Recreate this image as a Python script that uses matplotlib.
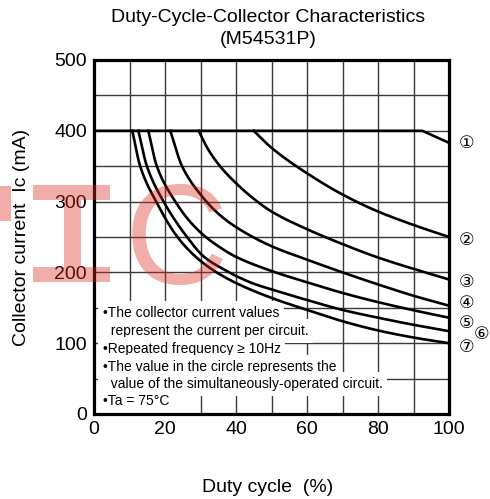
import matplotlib
matplotlib.use("Agg")
import matplotlib.pyplot as plt
from matplotlib.patches import Rectangle
import numpy as np

plt.rcParams['font.family'] = ['Liberation Sans', 'DejaVu Sans']

# ---- data ----
c1_x = [0, 92.5, 100]
c1_y = [400, 400, 383]
c2_x = [45, 50, 60, 70, 80, 90, 100]
c2_y = [400, 376, 340, 310, 286, 267, 250]
c3_x = [29.5, 32, 35.5, 40, 46, 50, 60, 70, 80, 90, 100]
c3_y = [400, 375, 350, 326, 300, 286, 261, 240, 221, 205, 190]
c4_x = [21.5, 24.8, 30, 35, 40, 50, 60, 70, 80, 90, 100]
c4_y = [400, 350, 310, 283, 264, 237, 218, 200, 183, 167, 153]
c5_x = [15.3, 17.7, 22.9, 27, 31, 35, 40, 50, 60, 70, 80, 90, 100]
c5_y = [400, 350, 300, 272, 252, 237, 222, 202, 186, 171, 158, 146.5, 136]
c6_x = [12.5, 14.9, 19.6, 26.2, 31, 37, 40, 45, 50, 60, 70, 80, 90, 100]
c6_y = [400, 350, 300, 250, 222, 203, 195, 184, 176, 161, 147, 136, 126, 117]
c7_x = [10.8, 13, 17.5, 23.5, 28, 33, 40, 50, 60, 70, 80, 90, 100]
c7_y = [400, 350, 300, 250, 225, 205, 185, 164, 147, 131, 118, 108, 100]
curves = [(c1_x, c1_y), (c2_x, c2_y), (c3_x, c3_y), (c4_x, c4_y),
          (c5_x, c5_y), (c6_x, c6_y), (c7_x, c7_y)]

circle_labels = ['①', '②', '③', '④', '⑤', '⑥', '⑦']
label_x = [102.6, 102.6, 102.6, 102.6, 102.6, 107.0, 102.6]
label_y = [383, 246, 187, 157, 129, 113, 95]

x_ticks = [0, 20, 40, 60, 80, 100]
y_ticks = [0, 100, 200, 300, 400, 500]

notes = ["•The collector current values",
         "  represent the current per circuit.",
         "•Repeated frequency ≥ 10Hz",
         "•The value in the circle represents the",
         "  value of the simultaneously-operated circuit.",
         "•Ta = 75°C"]
notes_y = [143, 117.5, 92, 66.5, 42, 18]


def pchip_draw(x, y, n=40):
    """Monotone cubic (Fritsch-Carlson) path through the read points, for drawing only."""
    x = np.asarray(x, float)
    y = np.asarray(y, float)
    if len(x) < 3:
        return x, y
    h = np.diff(x)
    d = np.diff(y) / h
    m = np.zeros_like(x)
    for k in range(1, len(x) - 1):
        if d[k - 1] * d[k] <= 0:
            m[k] = 0
        else:
            w1 = 2 * h[k] + h[k - 1]
            w2 = h[k] + 2 * h[k - 1]
            m[k] = (w1 + w2) / (w1 / d[k - 1] + w2 / d[k])
    m[0] = d[0]
    m[-1] = d[-1]
    xs, ys = [], []
    for k in range(len(x) - 1):
        t = np.linspace(0, 1, n, endpoint=(k == len(x) - 2))
        h00 = 2 * t**3 - 3 * t**2 + 1
        h10 = t**3 - 2 * t**2 + t
        h01 = -2 * t**3 + 3 * t**2
        h11 = t**3 - t**2
        xs.append(x[k] + t * h[k])
        ys.append(h00 * y[k] + h10 * h[k] * m[k] + h01 * y[k + 1] + h11 * h[k] * m[k + 1])
    return np.concatenate(xs), np.concatenate(ys)


W, H = 490, 499
fig = plt.figure(figsize=(W / 100, H / 100), dpi=100)
ax = fig.add_axes([94 / W, 1 - 414 / H, (449 - 94) / W, (414 - 60) / H])

ax.set_xlim(0, 100)
ax.set_ylim(0, 500)
ax.set_xticks(x_ticks)
ax.set_yticks(y_ticks)
ax.set_xticks(range(0, 101, 10), minor=True)
ax.set_yticks(range(0, 501, 50), minor=True)
ax.grid(which='both', color='#3a3a3a', linewidth=1.0)
ax.set_axisbelow(True)
ax.tick_params(which='both', length=0, labelsize=14, pad=5)
for s in ax.spines.values():
    s.set_linewidth(2.3)
    s.set_zorder(6)

for i, (cx, cy) in enumerate(curves):
    if i == 0:
        ax.plot(cx, cy, color='black', linewidth=1.9, zorder=5)
    else:
        sx, sy = pchip_draw(cx, cy)
        ax.plot(sx, sy, color='black', linewidth=1.9, zorder=5)

for lab, lx, ly in zip(circle_labels, label_x, label_y):
    ax.text(lx, ly, lab, fontsize=12.5, ha='left', va='center', clip_on=False,
            family=['DejaVu Sans'])

for t, ty in zip(notes, notes_y):
    ax.text(2.4, ty, t, fontsize=10, ha='left', va='center', zorder=3,
            bbox=dict(facecolor='white', edgecolor='none', pad=3.5))

fig.text(268 / W, 1 - 17 / H, "Duty-Cycle-Collector Characteristics",
         ha='center', va='center', fontsize=14)
fig.text(268 / W, 1 - 40 / H, "(M54531P)", ha='center', va='center', fontsize=14)
fig.text(268 / W, 1 - 487 / H, "Duty cycle  (%)", ha='center', va='center', fontsize=14)
fig.text(22 / W, 1 - 237 / H, "Collector current  Ic (mA)", ha='center', va='center',
         rotation=90, fontsize=14)

# watermark
wm_col = '#dc281e'
wm_alpha = 0.38


def px_rect(x0, y0, x1, y1):
    fig.add_artist(Rectangle((x0 / W, 1 - y1 / H), (x1 - x0) / W, (y1 - y0) / H,
                             transform=fig.transFigure, facecolor=wm_col,
                             edgecolor='none', alpha=wm_alpha, zorder=20))


px_rect(0, 186, 11, 221)
px_rect(33, 185, 110, 200)
px_rect(33, 267, 110, 282)
px_rect(64, 200, 81, 267)
fig.text(176 / W, 1 - 247 / H, "C", ha='center', va='center', fontsize=103,
         color=wm_col, alpha=wm_alpha, zorder=20)

fig.savefig("out.png", dpi=100)
